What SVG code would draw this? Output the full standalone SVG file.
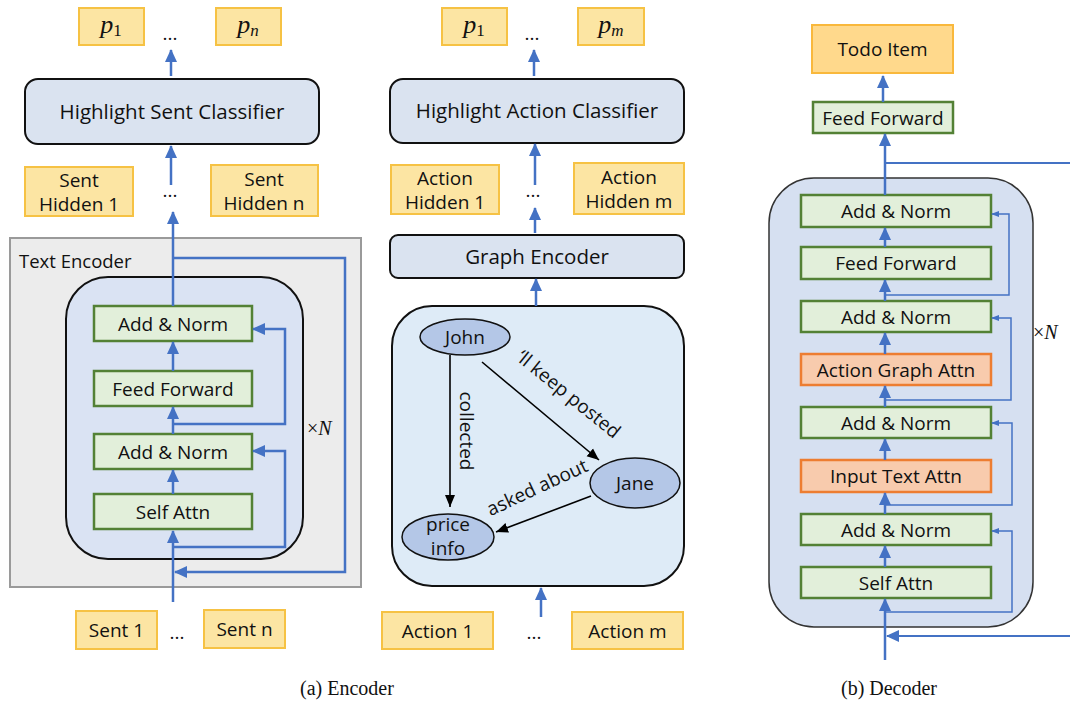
<svg xmlns="http://www.w3.org/2000/svg" width="1070" height="702" viewBox="0 0 1070 702">
<defs>
<marker id="ah" markerUnits="userSpaceOnUse" markerWidth="14" markerHeight="14" refX="12" refY="7" orient="auto"><path d="M0,1 L13,7 L0,13 Z" fill="#4472c4"/></marker>
<marker id="ahs" markerUnits="userSpaceOnUse" markerWidth="8" markerHeight="8" refX="7" refY="4" orient="auto"><path d="M0,1 L8,4 L0,7 Z" fill="#4472c4"/></marker>
<marker id="ahk" markerUnits="userSpaceOnUse" markerWidth="14" markerHeight="12" refX="12" refY="6" orient="auto"><path d="M0,1 L12,6 L0,11 Z" fill="#000"/></marker>
<style>
text{font-family:"Open Sans","Noto Sans","Liberation Sans",sans-serif;fill:#111;}
.t{font-size:19px;text-anchor:middle;dominant-baseline:central;}
.tb{font-size:20.5px;text-anchor:middle;dominant-baseline:central;}
.y{fill:#fce5a3;stroke:#f6c244;stroke-width:2;}
.g{fill:#e2efda;stroke:#538135;stroke-width:2.5;}
.o{fill:#f8cbad;stroke:#ed7d31;stroke-width:2.5;}
.cls{fill:#dae3f0;stroke:#111;stroke-width:2;}
.bl{fill:none;stroke:#4472c4;stroke-width:2.5;}
.bt{fill:none;stroke:#4472c4;stroke-width:1.5;}
.bk{fill:none;stroke:#000;stroke-width:1.6;}
.m{font-family:"Liberation Serif",serif;font-size:26px;text-anchor:middle;}
.sub{font-size:17px;}
.cap{font-family:"Liberation Serif",serif;font-size:20px;text-anchor:middle;}
.xn{font-family:"Liberation Serif",serif;font-size:20px;}
.el{fill:#b4c7e7;stroke:#111;stroke-width:1.5;}
</style>
</defs>

<!-- Encoder (a) left -->
<g id="text-encoder-box"><rect x="10" y="238" width="351" height="349" fill="#ececec" stroke="#9a9a9a" stroke-width="2"/><text x="19" y="268" font-size="18.5">Text Encoder</text></g>
<g id="enc-layer"><rect x="66" y="277" width="237" height="282" rx="42" fill="#dae3f3" stroke="#111" stroke-width="2"/></g>
<g id="enc-addnorm1"><rect class="g" x="94" y="306" width="158" height="35"/><text class="t" x="173" y="323.5">Add &amp; Norm</text></g>
<g id="enc-ff"><rect class="g" x="94" y="371" width="158" height="35"/><text class="t" x="173" y="388.5">Feed Forward</text></g>
<g id="enc-addnorm2"><rect class="g" x="94" y="434" width="158" height="35"/><text class="t" x="173" y="451.5">Add &amp; Norm</text></g>
<g id="enc-selfattn"><rect class="g" x="94" y="494" width="158" height="35"/><text class="t" x="173" y="511.5">Self Attn</text></g>
<g id="enc-xn"><text class="xn" x="307" y="435">×<tspan font-style="italic">N</tspan></text></g>

<g id="sent-hidden-1"><rect class="y" x="25" y="167" width="108" height="49"/><text class="t" x="79" y="180">Sent</text><text class="t" x="79" y="204">Hidden 1</text></g>
<g id="sent-hidden-n"><rect class="y" x="211" y="165" width="107" height="51"/><text class="t" x="264" y="179">Sent</text><text class="t" x="264" y="203">Hidden n</text></g>
<g id="sent-dots-h"><text class="t" x="170" y="190">...</text></g>
<g id="hl-sent"><rect class="cls" x="25" y="79" width="294" height="65" rx="13"/><text class="tb" x="172" y="111">Highlight Sent Classifier</text></g>
<g id="p1-a"><rect class="y" x="79" y="8" width="65" height="37"/><text class="m" x="111" y="33"><tspan font-style="italic">p</tspan><tspan class="sub" dy="3">1</tspan></text></g>
<g id="pn-a"><rect class="y" x="216" y="8" width="65" height="37"/><text class="m" x="248" y="33"><tspan font-style="italic">p</tspan><tspan class="sub" dy="3" font-style="italic">n</tspan></text></g>
<g id="p-dots-a"><text class="t" x="170" y="33">...</text></g>
<g id="sent-1"><rect class="y" x="76" y="611" width="81" height="38"/><text class="t" x="116.5" y="630">Sent 1</text></g>
<g id="sent-n"><rect class="y" x="204" y="610" width="81" height="38"/><text class="t" x="244.5" y="629">Sent n</text></g>
<g id="sent-dots"><text class="t" x="177" y="632">...</text></g>

<!-- Middle: action -->
<g id="p1-b"><rect class="y" x="442" y="8" width="65" height="37"/><text class="m" x="474" y="33"><tspan font-style="italic">p</tspan><tspan class="sub" dy="3">1</tspan></text></g>
<g id="pm-b"><rect class="y" x="578" y="8" width="66" height="37"/><text class="m" x="611" y="33"><tspan font-style="italic">p</tspan><tspan class="sub" dy="3" font-style="italic">m</tspan></text></g>
<g id="p-dots-b"><text class="t" x="532" y="33">...</text></g>
<g id="hl-action"><rect class="cls" x="390" y="79" width="294" height="64" rx="13"/><text class="tb" x="537" y="110">Highlight Action Classifier</text></g>
<g id="action-hidden-1"><rect class="y" x="391" y="165" width="108" height="49"/><text class="t" x="445" y="178">Action</text><text class="t" x="445" y="202">Hidden 1</text></g>
<g id="action-hidden-m"><rect class="y" x="574" y="163" width="110" height="51"/><text class="t" x="629" y="177">Action</text><text class="t" x="629" y="201">Hidden m</text></g>
<g id="action-dots-h"><text class="t" x="533" y="190">...</text></g>
<g id="graph-encoder"><rect class="cls" x="390" y="235" width="294" height="43" rx="8"/><text class="tb" x="537" y="256">Graph Encoder</text></g>
<g id="graph-box"><rect x="392" y="306" width="292" height="280" rx="40" fill="#deebf7" stroke="#111" stroke-width="2"/></g>
<g id="john"><ellipse class="el" cx="465" cy="337" rx="45" ry="18"/><text class="t" x="465" y="337">John</text></g>
<g id="jane"><ellipse class="el" cx="635" cy="483" rx="45" ry="25"/><text class="t" x="635" y="483">Jane</text></g>
<g id="price-info"><ellipse class="el" cx="448" cy="537" rx="46" ry="23"/><text class="t" x="448" y="524">price</text><text class="t" x="448" y="548">info</text></g>
<g id="action-1"><rect class="y" x="382" y="612" width="111" height="37"/><text class="t" x="437.5" y="630.5">Action 1</text></g>
<g id="action-m"><rect class="y" x="572" y="612" width="111" height="37"/><text class="t" x="627.5" y="630.5">Action m</text></g>
<g id="action-dots"><text class="t" x="534" y="632">...</text></g>

<!-- Decoder -->
<g id="todo"><rect x="812" y="25" width="141" height="48" fill="#ffd98c" stroke="#f9b83c" stroke-width="2"/><text class="t" x="882.5" y="49">Todo Item</text></g>
<g id="dec-ff-top"><rect class="g" x="813" y="102" width="140" height="31"/><text class="t" x="883" y="117.5">Feed Forward</text></g>
<g id="dec-layer"><rect x="769" y="178" width="264" height="449" rx="45" fill="#d6e0f1" stroke="#333" stroke-width="1.5"/></g>
<g id="dec-addnorm1"><rect class="g" x="801" y="195" width="190" height="32"/><text class="t" x="896" y="211">Add &amp; Norm</text></g>
<g id="dec-ff"><rect class="g" x="801" y="247" width="190" height="32"/><text class="t" x="896" y="263">Feed Forward</text></g>
<g id="dec-addnorm2"><rect class="g" x="801" y="301" width="190" height="31"/><text class="t" x="896" y="316.5">Add &amp; Norm</text></g>
<g id="dec-agattn"><rect class="o" x="801" y="354" width="190" height="31"/><text class="t" x="896" y="369.5">Action Graph Attn</text></g>
<g id="dec-addnorm3"><rect class="g" x="801" y="407" width="190" height="31"/><text class="t" x="896" y="422.5">Add &amp; Norm</text></g>
<g id="dec-itattn"><rect class="o" x="801" y="460" width="190" height="32"/><text class="t" x="896" y="476">Input Text Attn</text></g>
<g id="dec-addnorm4"><rect class="g" x="801" y="514" width="190" height="31"/><text class="t" x="896" y="529.5">Add &amp; Norm</text></g>
<g id="dec-selfattn"><rect class="g" x="801" y="567" width="190" height="31"/><text class="t" x="896" y="582.5">Self Attn</text></g>
<g id="dec-xn"><text class="xn" x="1033" y="339">×<tspan font-style="italic">N</tspan></text></g>

<g id="connectors">
<!-- left encoder -->
<path class="bl" d="M171,76 V50" marker-end="url(#ah)"/>
<path class="bl" d="M171,185 V146" marker-end="url(#ah)"/>
<path class="bl" d="M173,306 V212" marker-end="url(#ah)"/>
<path class="bl" d="M173,371 V342" marker-end="url(#ah)"/>
<path class="bl" d="M173,434 V407" marker-end="url(#ah)"/>
<path class="bl" d="M173,494 V470" marker-end="url(#ah)"/>
<path class="bl" d="M173,602 V531" marker-end="url(#ah)"/>
<path class="bl" d="M173,424 H285 V329 H253" marker-end="url(#ah)"/>
<path class="bl" d="M173,547 H285 V451 H253" marker-end="url(#ah)"/>
<path class="bl" d="M173,258 H345 V572 H175" marker-end="url(#ah)"/>
<!-- middle -->
<path class="bl" d="M534,76 V50" marker-end="url(#ah)"/>
<path class="bl" d="M535,185 V144" marker-end="url(#ah)"/>
<path class="bl" d="M535,233 V208" marker-end="url(#ah)"/>
<path class="bl" d="M536,306 V279" marker-end="url(#ah)"/>
<path class="bl" d="M541,617 V588" marker-end="url(#ah)"/>
<path class="bk" d="M450,355 V507" marker-end="url(#ahk)"/>
<path class="bk" d="M482,362 L599,460" marker-end="url(#ahk)"/>
<path class="bk" d="M591,496 L496,532" marker-end="url(#ahk)"/>
<!-- decoder -->
<path class="bl" d="M883,102 V76" marker-end="url(#ah)"/>
<path class="bl" d="M885,195 V134" marker-end="url(#ah)"/>
<path class="bl" d="M885,163 H1070" style="stroke-width:2"/>
<path class="bl" d="M885,247 V228" marker-end="url(#ah)"/>
<path class="bl" d="M885,301 V280" marker-end="url(#ah)"/>
<path class="bl" d="M885,354 V333" marker-end="url(#ah)"/>
<path class="bl" d="M885,407 V386" marker-end="url(#ah)"/>
<path class="bl" d="M885,460 V439" marker-end="url(#ah)"/>
<path class="bl" d="M885,514 V493" marker-end="url(#ah)"/>
<path class="bl" d="M885,567 V546" marker-end="url(#ah)"/>
<path class="bl" d="M885,660 V599" marker-end="url(#ah)"/>
<path class="bt" d="M885,295 H1009 V214 H992" marker-end="url(#ahs)"/>
<path class="bt" d="M885,400 H1011 V318 H992" marker-end="url(#ahs)"/>
<path class="bt" d="M885,505 H1012 V423 H992" marker-end="url(#ahs)"/>
<path class="bt" d="M885,612 H1012 V531 H992" marker-end="url(#ahs)"/>
<path class="bl" d="M1070,636 H887" style="stroke-width:2" marker-end="url(#ah)"/>
</g>

<g id="edge-labels">
<text class="t" x="467" y="431" transform="rotate(90 467 431)">collected</text>
<text class="t" x="569" y="394" transform="rotate(39 569 394)">‘ll keep posted</text>
<text class="t" x="537" y="487" transform="rotate(-25 537 487)">asked about</text>
</g>

<g id="captions">
<text class="cap" x="347" y="695">(a)  Encoder</text>
<text class="cap" x="889" y="695">(b)  Decoder</text>
</g>
</svg>
